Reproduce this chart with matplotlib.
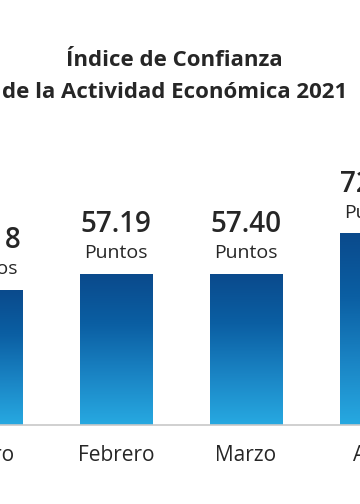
import matplotlib
matplotlib.use("Agg")
import matplotlib.pyplot as plt
import numpy as np
from matplotlib.colors import LinearSegmentedColormap

months = ["Enero", "Febrero", "Marzo", "Abril"]
values = [51.18, 57.19, 57.40, 72.70]
value_labels = ["51.18", "57.19", "57.40", "72.70"]
unit_label = "Puntos"
title_lines = ["Índice de Confianza", "de la Actividad Económica 2021"]

FONT = ["Open Sans", "DejaVu Sans"]
TXT = "#262626"

fig = plt.figure(figsize=(3.6, 5.04), dpi=100)
ax = fig.add_axes([0, 0, 1, 1])
ax.set_xlim(0.1077, 2.877)
ax.set_ylim(-29.9, 161)
ax.axis("off")

cmap = LinearSegmentedColormap.from_list("g", ["#27a9e1", "#1a84c4", "#0b5fa3", "#0a4a8c"])
grad = np.linspace(0, 1, 256).reshape(-1, 1)
w = 0.554
x = np.arange(len(months))
bars = ax.bar(x, values, width=w, color="none", edgecolor="none")
for b in bars:
    x0, y0 = b.get_x(), b.get_y()
    im = ax.imshow(grad, cmap=cmap, aspect="auto", origin="lower",
                   extent=[x0, x0 + b.get_width(), y0, y0 + b.get_height()], zorder=2)
    im.set_clip_path(b)

ax.axhline(0, color="#c8c8c8", lw=1.2, zorder=3)

for xi, v, lab, m in zip(x, values, value_labels, months):
    ax.text(xi, v + 18.6, lab, ha="center", va="center", fontsize=20, fontweight="semibold",
            family=FONT, color=TXT)
    ax.text(xi, v + 7.8, unit_label, ha="center", va="center", fontsize=14,
            family=FONT, color=TXT)
    ax.text(xi, -11.5, m, ha="center", va="center", fontsize=15, family=FONT, color=TXT)

fig.text(0.485, 1 - 60 / 504, title_lines[0], ha="center", va="center", fontsize=16,
         fontweight="bold", family=FONT, color=TXT)
fig.text(0.485, 1 - 93 / 504, title_lines[1], ha="center", va="center", fontsize=16,
         fontweight="bold", family=FONT, color=TXT)

fig.savefig("out.png", dpi=100)
